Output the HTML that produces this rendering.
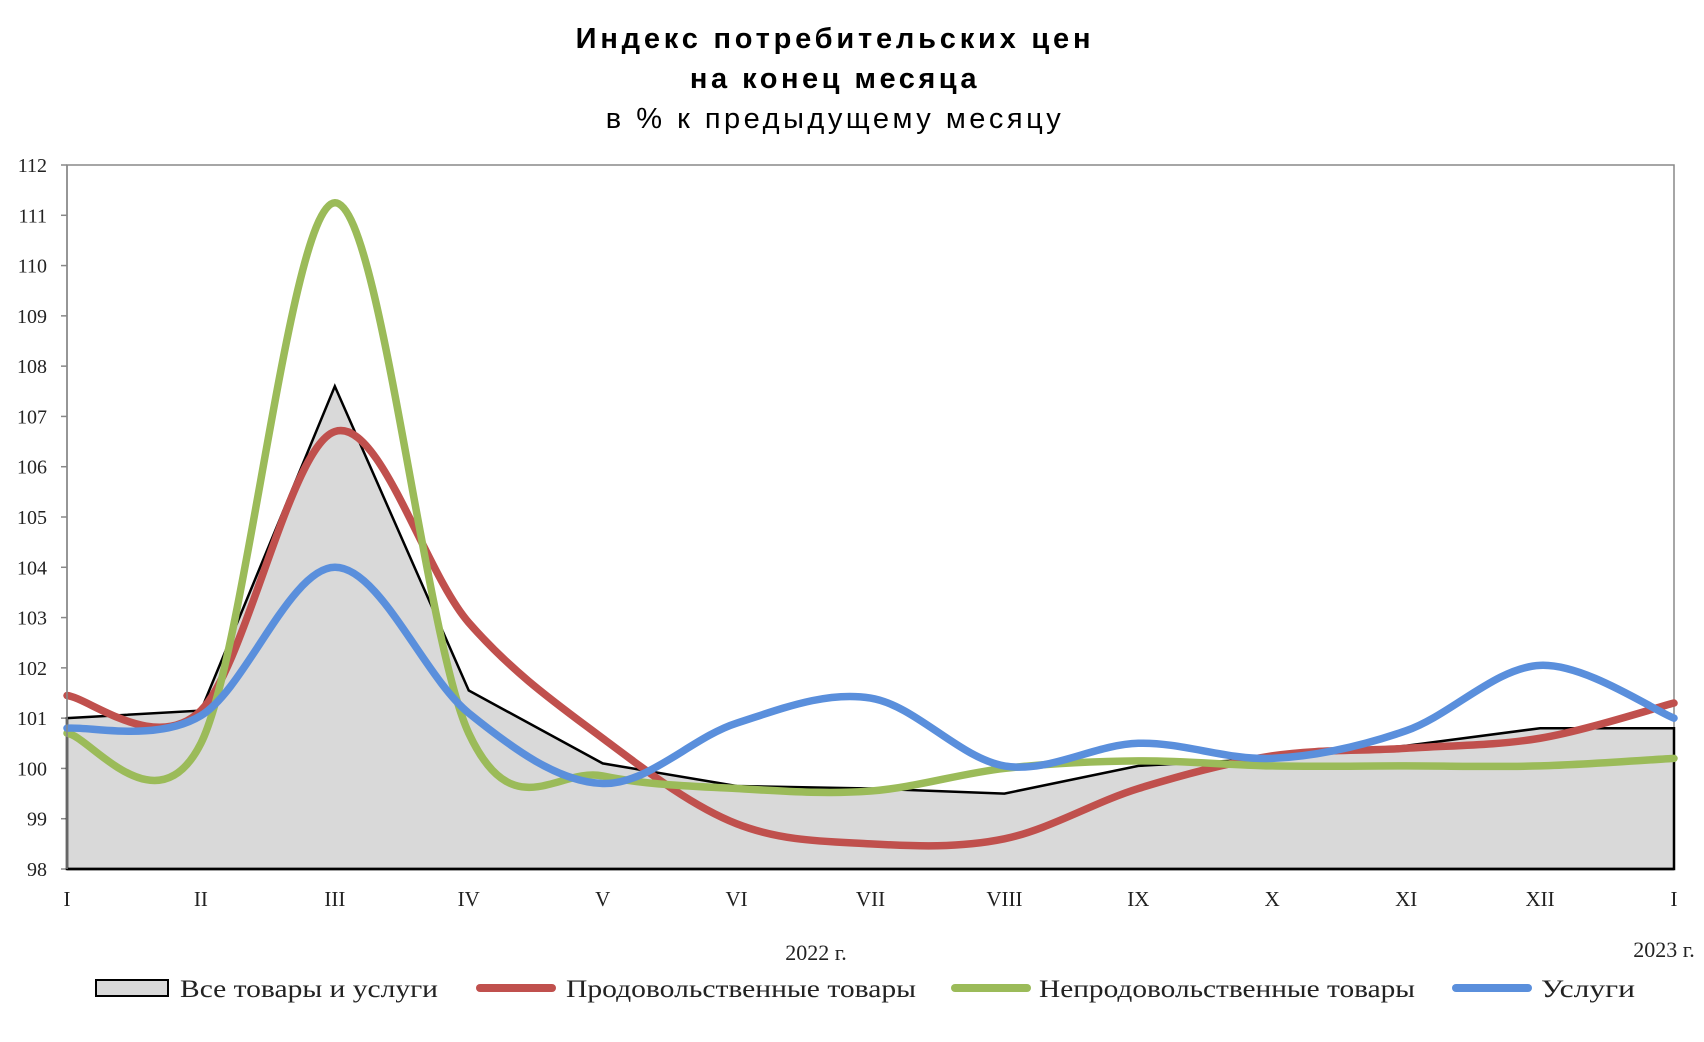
<!DOCTYPE html>
<html><head><meta charset="utf-8">
<style>
html,body{margin:0;padding:0;background:#fff;}
svg{display:block;}
.t{font-family:"Liberation Sans",sans-serif;fill:#000;}
.s{font-family:"Liberation Serif",serif;fill:#222;}
</style></head>
<body>
<svg id="chart" width="1704" height="1042" viewBox="0 0 1704 1042" xmlns="http://www.w3.org/2000/svg">
<text class="t" x="835" y="48" text-anchor="middle" font-size="29" font-weight="bold" letter-spacing="3.8">Индекс потребительских цен</text>
<text class="t" x="835" y="88" text-anchor="middle" font-size="29" font-weight="bold" letter-spacing="3.5">на конец месяца</text>
<text class="t" x="835" y="128" text-anchor="middle" font-size="29" letter-spacing="3.5">в % к предыдущему месяцу</text>
<g id="plot"></g>
<text class="s" x="816" y="960" text-anchor="middle" font-size="22">2022 г.</text>
<text class="s" x="1664" y="957" text-anchor="middle" font-size="22">2023 г.</text>
<g font-size="25">
  <g>
    <rect x="96" y="980" width="72" height="16" fill="#d9d9d9" stroke="#000" stroke-width="2"/>
    <text class="s" x="180" y="997" textLength="258" lengthAdjust="spacingAndGlyphs">Все товары и услуги</text>
  </g>
  <g>
    <line x1="480" y1="988" x2="552" y2="988" stroke="#c0504d" stroke-width="8" stroke-linecap="round"/>
    <text class="s" x="566" y="997" textLength="350" lengthAdjust="spacingAndGlyphs">Продовольственные товары</text>
  </g>
  <g>
    <line x1="955" y1="988" x2="1027" y2="988" stroke="#9bbb59" stroke-width="8" stroke-linecap="round"/>
    <text class="s" x="1039" y="997" textLength="376" lengthAdjust="spacingAndGlyphs">Непродовольственные товары</text>
  </g>
  <g>
    <line x1="1456" y1="988" x2="1528" y2="988" stroke="#5a8fdc" stroke-width="8" stroke-linecap="round"/>
    <text class="s" x="1541" y="997" textLength="94" lengthAdjust="spacingAndGlyphs">Услуги</text>
  </g>
</g>
</svg>
<script>
const categories = ["I","II","III","IV","V","VI","VII","VIII","IX","X","XI","XII","I"];
const yTicks = [98,99,100,101,102,103,104,105,106,107,108,109,110,111,112];
const allGoods = [101.0,101.15,107.6,101.55,100.1,99.65,99.6,99.5,100.05,100.2,100.45,100.8,100.8];
const food = [101.45,101.15,106.7,102.9,100.6,98.9,98.5,98.6,99.6,100.25,100.4,100.6,101.3];
const nonFood = [100.7,100.5,111.25,100.7,99.85,99.6,99.55,100.0,100.15,100.05,100.05,100.05,100.2];
const services = [100.8,101.05,104.0,101.1,99.7,100.9,101.4,100.05,100.5,100.2,100.75,102.05,101.0];

const NS="http://www.w3.org/2000/svg";
const L=67,R=1674,T=165,B=869,yMin=98,yMax=112;
const xs=i=>L+i*(R-L)/(categories.length-1);
const ys=v=>B-(v-yMin)/(yMax-yMin)*(B-T);
const g=document.getElementById('plot');
function mk(tag,attrs,parent){const e=document.createElementNS(NS,tag);for(const k in attrs)e.setAttribute(k,attrs[k]);(parent||g).appendChild(e);return e;}

let frame=mk('rect',{x:L,y:T,width:R-L,height:B-T,fill:'#fff',stroke:'#888','stroke-width':1.5});



yTicks.forEach(v=>{
  const t=mk('text',{x:L-20,y:ys(v)+7,'text-anchor':'end','font-size':20,class:'s'});
  t.textContent=v;
  
  
  const tk=mk('line',{x1:L-6,x2:L,y1:ys(v),y2:ys(v),stroke:'#888','stroke-width':1.5});
  
  
});

let d='M'+xs(0)+','+B;
allGoods.forEach((v,i)=>{d+=' L'+xs(i)+','+ys(v);});
d+=' L'+xs(allGoods.length-1)+','+B+' Z';
let area=mk('path',{d:d,fill:'#d9d9d9',stroke:'none'});


let ld='';
allGoods.forEach((v,i)=>{ld+=(i?' L':'M')+xs(i)+','+ys(v);});
ld+=' L'+xs(allGoods.length-1)+','+B+' L'+xs(0)+','+B+' Z';
let aline=mk('path',{d:ld,fill:'none',stroke:'#000','stroke-width':2.5});



function smooth(vals){
  const p=vals.map((v,i)=>[xs(i),ys(v)]);
  let s='M'+p[0][0]+','+p[0][1];
  for(let i=0;i<p.length-1;i++){
    const p0=p[Math.max(0,i-1)],p1=p[i],p2=p[i+1],p3=p[Math.min(p.length-1,i+2)];
    const c1=[p1[0]+(p2[0]-p0[0])/6,p1[1]+(p2[1]-p0[1])/6];
    const c2=[p2[0]-(p3[0]-p1[0])/6,p2[1]-(p3[1]-p1[1])/6];
    s+=' C'+c1[0]+','+c1[1]+' '+c2[0]+','+c2[1]+' '+p2[0]+','+p2[1];
  }
  return s;
}
let lf=mk('path',{d:smooth(food),fill:'none',stroke:'#c0504d','stroke-width':7.5,'stroke-linecap':'round'});


let ln=mk('path',{d:smooth(nonFood),fill:'none',stroke:'#9bbb59','stroke-width':7.5,'stroke-linecap':'round'});


let lsv=mk('path',{d:smooth(services),fill:'none',stroke:'#5a8fdc','stroke-width':7.5,'stroke-linecap':'round'});



let ax=mk('line',{x1:L,x2:R,y1:B,y2:B,stroke:'#000','stroke-width':2.5});


let axl=mk('line',{x1:L,x2:L,y1:T,y2:B,stroke:'#888','stroke-width':1.5});



categories.forEach((c,i)=>{
  const t=mk('text',{x:xs(i),y:906,'text-anchor':'middle','font-size':21,class:'s'});
  t.textContent=c;
  
  
});
</script>
</body></html>
